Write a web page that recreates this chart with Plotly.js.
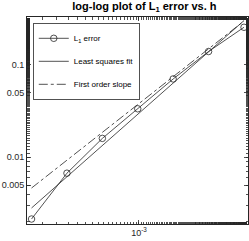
<!DOCTYPE html>
<html>
<head>
<meta charset="utf-8">
<script src="https://cdn.plot.ly/plotly-3.0.1.min.js"></script>
<style>html,body{margin:0;padding:0;background:#fff;}#chart{width:249px;height:241px;}</style>
</head>
<body>
<div id="chart"></div>
<script>
// Data
const hValues = [1.2207e-4, 2.4414e-4, 4.8828e-4, 9.7656e-4, 1.9531e-3, 3.9063e-3, 7.8125e-3];
const errorValues = [0.00215, 0.00673, 0.0160, 0.0334, 0.0702, 0.139, 0.254];
const fitH = [1.2207e-4, 7.8125e-3];
const fitValues = [0.00283, 0.300];
const slopeH = [1.2207e-4, 7.8125e-3];
const slopeValues = [0.00465, 0.297];
const yTickVals = [0.005, 0.01, 0.05, 0.1];
const yTickText = ['0.005', '0.01', '0.05', '0.1'];
const xTickVals = [1e-3];
const xTickText = ['10<sup>-3</sup>'];

const lineColor = '#262626';
const traces = [
  {x: hValues, y: errorValues, mode: 'lines+markers', name: 'L<sub>1</sub> error', legendgroup: 'a',
   line: {color: lineColor, width: 0.8},
   marker: {symbol: 'circle-open', size: 6.5, color: lineColor, line: {width: 0.8}}},
  {x: fitH, y: fitValues, mode: 'lines', name: 'Least squares fit', legendgroup: 'b',
   line: {color: lineColor, width: 0.8}},
  {x: slopeH, y: slopeValues, mode: 'lines', name: 'First order slope', legendgroup: 'c',
   line: {color: lineColor, width: 0.8, dash: 'dashdot'}}
];

const axisCommon = {
  type: 'log', showgrid: false, zeroline: false,
  showline: true, linecolor: lineColor, linewidth: 1, mirror: 'ticks',
  ticks: 'inside', ticklen: 4, tickcolor: lineColor, tickwidth: 0.8,
  tickfont: {family: 'Liberation Sans, Arial, sans-serif', size: 9, color: lineColor},
  minor: {ticks: 'inside', ticklen: 2.5, tickcolor: lineColor, tickwidth: 0.8, showgrid: false}
};

const layout = {
  width: 249, height: 241,
  margin: {l: 27, r: 1, t: 17, b: 17},
  paper_bgcolor: '#fff', plot_bgcolor: '#fff',
  showlegend: true,
  title: {text: '<b>log-log plot of L<sub>1</sub> error vs. h</b>',
    font: {family: 'Liberation Sans, Arial, sans-serif', size: 11, color: '#000'},
    x: 0.58, xanchor: 'center', y: 0.99, yanchor: 'top'},
  xaxis: Object.assign({}, axisCommon, {
    range: [Math.log10(1.117e-4), Math.log10(8.45e-3)],
    tickvals: xTickVals, ticktext: xTickText
  }),
  yaxis: Object.assign({}, axisCommon, {
    range: [Math.log10(0.0019), Math.log10(0.328)],
    tickvals: yTickVals, ticktext: yTickText
  }),
  legend: {x: 0.027, y: 0.971, xanchor: 'left', yanchor: 'top',
    bgcolor: '#fff', bordercolor: lineColor, borderwidth: 0.8,
    font: {family: 'Liberation Sans, Arial, sans-serif', size: 8, color: '#000'},
    itemwidth: 30, tracegroupgap: 4}
};

Plotly.newPlot('chart', traces, layout, {displayModeBar: false, staticPlot: true});
</script>
</body>
</html>
